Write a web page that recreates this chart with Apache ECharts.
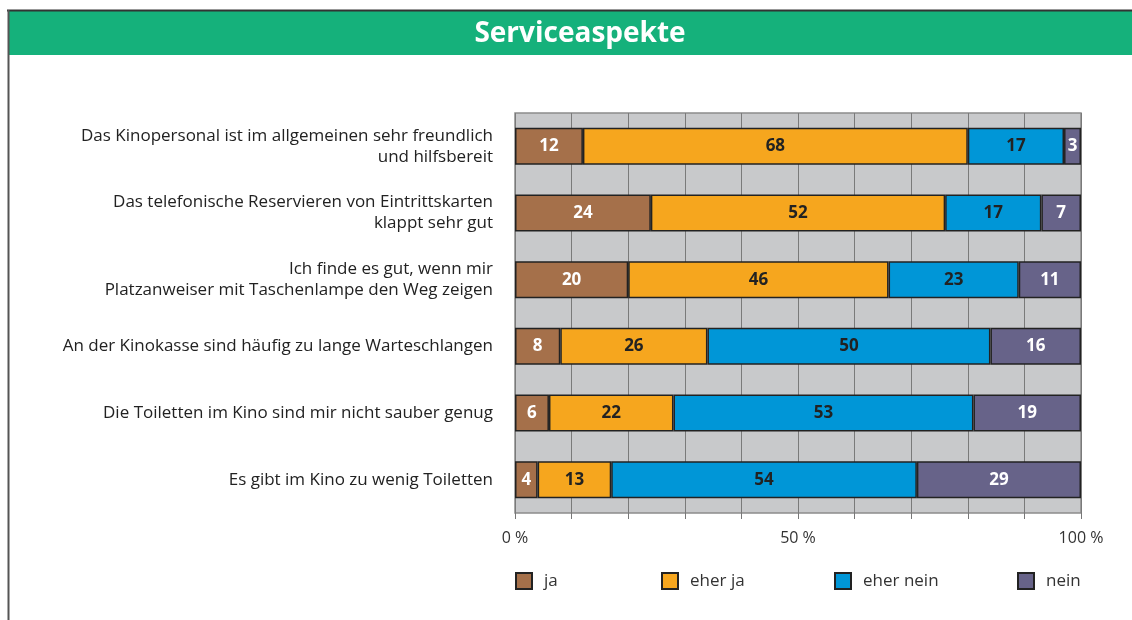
<!DOCTYPE html>
<html>
<head>
<meta charset="utf-8">
<script src="https://cdn.jsdelivr.net/npm/echarts@6/dist/echarts.min.js"></script>
<style>
  html, body { margin: 0; padding: 0; background: #fff; }
  #chart { width: 1132px; height: 620px; }
</style>
</head>
<body>
<div id="chart"></div>
<script>
  // Aussagen (von oben nach unten)
  const categories = [
    'Das Kinopersonal ist im allgemeinen sehr freundlich\nund hilfsbereit',
    'Das telefonische Reservieren von Eintrittskarten\nklappt sehr gut',
    'Ich finde es gut, wenn mir\nPlatzanweiser mit Taschenlampe den Weg zeigen',
    'An der Kinokasse sind häufig zu lange Warteschlangen',
    'Die Toiletten im Kino sind mir nicht sauber genug',
    'Es gibt im Kino zu wenig Toiletten'
  ];
  const seriesNames = ['ja', 'eher ja', 'eher nein', 'nein'];
  const ja = [12, 24, 20, 8, 6, 4];
  const eherJa = [68, 52, 46, 26, 22, 13];
  const eherNein = [17, 17, 23, 50, 53, 54];
  const nein = [3, 7, 11, 16, 19, 29];
  const axisTicks = [0, 50, 100];

  const colors = ['#a5704a', '#f6a61e', '#0096d7', '#676389'];
  const labelColors = ['#fff', '#222', '#222', '#fff'];
  const values = [ja, eherJa, eherNein, nein];
  const legendLeft = [515, 661, 834, 1017];

  const font = '"Open Sans", "Noto Sans", sans-serif';

  let chart = echarts.init(document.getElementById('chart'));

  chart.setOption({
    animation: false,
    textStyle: { fontFamily: font },
    title: {
      text: 'Serviceaspekte',
      left: 575,
      textAlign: 'center',
      top: 15,
      textStyle: { color: '#fff', fontSize: 28, fontWeight: 'bold', fontFamily: font }
    },
    graphic: [
      { type: 'rect', z: -1, shape: { x: 8, y: 11, width: 1124, height: 44 }, style: { fill: '#15b17b' } },
      { type: 'line', shape: { x1: 7, y1: 10.5, x2: 1132, y2: 10.5 }, style: { stroke: '#333', lineWidth: 2 } },
      { type: 'line', shape: { x1: 8.5, y1: 10, x2: 8.5, y2: 620 }, style: { stroke: '#555', lineWidth: 2 } }
    ],
    legend: seriesNames.map((n, i) => ({
      data: [n],
      left: legendLeft[i],
      top: 572,
      padding: 0,
      icon: 'rect',
      itemWidth: 16,
      itemHeight: 16,
      textStyle: { fontSize: 17, color: '#333', padding: [0, 0, 0, 7] }
    })),
    grid: {
      left: 515,
      right: 51,
      top: 113,
      bottom: 107,
      show: true,
      backgroundColor: '#c8c9cb',
      borderColor: '#8c8c8c',
      borderWidth: 1.5
    },
    xAxis: {
      type: 'value',
      min: 0,
      max: 100,
      interval: 10,
      axisLine: { show: false },
      axisTick: { show: true, length: 6, lineStyle: { color: '#777' } },
      splitLine: { show: true, lineStyle: { color: '#7a7a7a', width: 1 } },
      axisLabel: {
        margin: 17,
        fontSize: 16,
        color: '#333',
        formatter: v => axisTicks.includes(v) ? v + ' %' : ''
      }
    },
    yAxis: {
      type: 'category',
      inverse: true,
      data: categories,
      axisLine: { show: false },
      axisTick: { show: false },
      axisLabel: {
        margin: 22,
        fontSize: 17,
        color: '#222',
        lineHeight: 21,
        align: 'right'
      }
    },
    series: seriesNames.map((n, i) => ({
      name: n,
      type: 'bar',
      stack: 'total',
      barWidth: 37,
      data: values[i],
      itemStyle: { color: colors[i], borderColor: '#222', borderWidth: 1.5 },
      label: {
        show: true,
        position: 'inside',
        color: labelColors[i],
        fontSize: 17,
        fontWeight: 'bold'
      }
    }))
  });
</script>
</body>
</html>
